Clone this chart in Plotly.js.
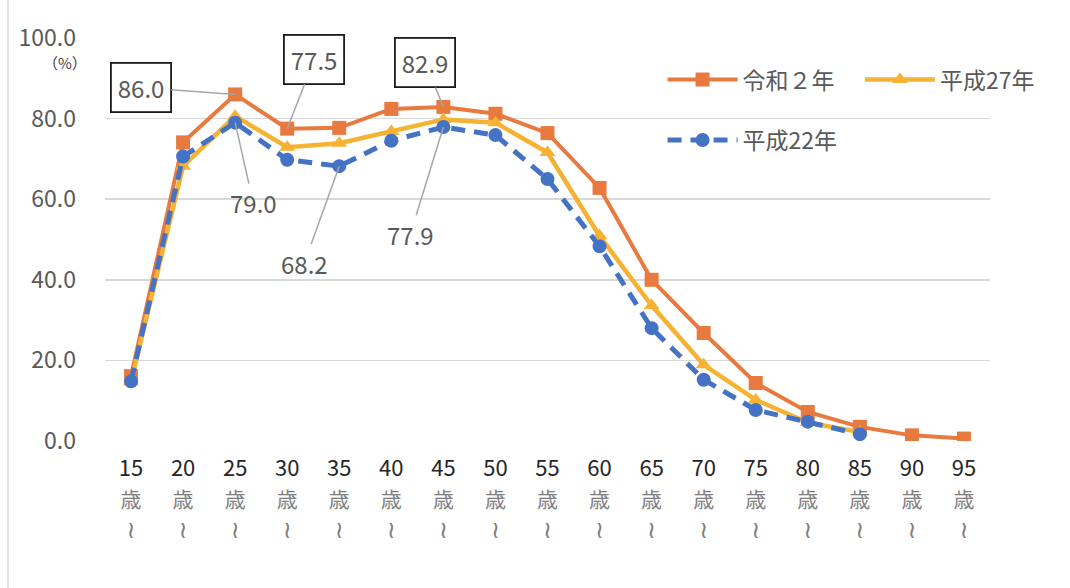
<!DOCTYPE html>
<html>
<head>
<meta charset="utf-8">
<script src="https://cdn.plot.ly/plotly-3.0.1.min.js"></script>
<style>
html,body{margin:0;padding:0;background:#fff;}
#chart{width:1070px;height:588px;}
</style>
</head>
<body>
<div id="chart"></div>
<script>
// ---- data ----
const ages = ['15','20','25','30','35','40','45','50','55','60','65','70','75','80','85','90','95'];
const ageUnit = '歳';
const ageMark = '≀';
const reiwa2 = [16.1, 74.1, 86.0, 77.5, 77.7, 82.4, 82.9, 81.2, 76.4, 62.8, 40.0, 26.8, 14.4, 7.2, 3.5, 1.4, 0.6];
const heisei27 = [14.7, 68.2, 80.6, 72.9, 73.9, 76.8, 79.8, 79.0, 71.6, 50.9, 33.6, 18.9, 10.2, 4.6, 2.2];
const heisei22 = [14.8, 70.6, 79.0, 69.8, 68.2, 74.5, 77.9, 75.9, 65.0, 48.3, 28.0, 15.2, 7.7, 4.8, 1.7];
const seriesNames = ['令和２年', '平成27年', '平成22年'];
const yTicks = [0, 20, 40, 60, 80, 100];

const FONT = '"Noto Sans CJK JP", sans-serif';
const CJK = '"Noto Sans CJK JP", sans-serif';
const C_OR = '#E8793F', C_YE = '#F6B232', C_BL = '#4472C4';

const tickText = ages.map(a =>
  '<span style="font-size:22px">' + a + '</span><br>' +
  '<span style="font-size:21px;color:#7f7f7f">' + ageUnit + '</span><br>' +
  '<span style="font-family:DejaVu Sans;font-size:24px;color:#7f7f7f">' + ageMark + '</span>');
const idx = a => ages.indexOf(a);

const traces = [
  {x: ages.slice(0, reiwa2.length), y: reiwa2, name: seriesNames[0], type: 'scatter', mode: 'lines+markers',
   line: {color: C_OR, width: 4}, marker: {symbol: 'square', size: 14, color: C_OR}, legend: 'legend'},
  {x: ages.slice(0, heisei27.length), y: heisei27, name: seriesNames[1], type: 'scatter', mode: 'lines+markers',
   line: {color: C_YE, width: 4.5}, marker: {symbol: 'triangle-up', size: 14, color: C_YE}, legend: 'legend3'},
  {x: ages.slice(0, heisei22.length), y: heisei22, name: seriesNames[2], type: 'scatter', mode: 'lines+markers',
   line: {color: C_BL, width: 5, dash: '14px,9px'}, marker: {symbol: 'circle', size: 14, color: C_BL}, legend: 'legend2'}
];

function boxed(a, yv, txt, ax, ay) {
  return {x: idx(a), y: yv, xref: 'x', yref: 'y', text: txt, showarrow: true, arrowhead: 0, arrowwidth: 1.5,
    arrowcolor: '#a6a6a6', ax: ax, ay: ay, standoff: 0, startstandoff: 0,
    bordercolor: '#1a1a1a', borderwidth: 1.8, borderpad: 6, bgcolor: '#fff',
    font: {family: FONT, size: 24, color: '#595959'}};
}
function plain(a, yv, txt, ax, ay) {
  return {x: idx(a), y: yv, xref: 'x', yref: 'y', text: txt, showarrow: true, arrowhead: 0, arrowwidth: 1.5,
    arrowcolor: '#a6a6a6', ax: ax, ay: ay, standoff: 0,
    font: {family: FONT, size: 24, color: '#595959'}};
}

const legendBase = {orientation: 'h', xanchor: 'left', yanchor: 'top', itemwidth: 70,
  font: {family: CJK, size: 23, color: '#595959'}, bgcolor: 'rgba(0,0,0,0)'};

const layout = {
  width: 1070, height: 588,
  margin: {l: 105, r: 80, t: 38, b: 147, autoexpand: false},
  paper_bgcolor: '#fff', plot_bgcolor: '#fff',
  showlegend: true,
  xaxis: {type: 'category', categoryarray: ages, range: [-0.5, ages.length - 0.5], tickvals: ages, ticktext: tickText,
    tickangle: 0, showgrid: false, zeroline: false, showline: false, ticks: '', automargin: false,
    tickfont: {family: FONT, size: 24, color: '#262626'}, ticklabelstandoff: 10, fixedrange: true},
  yaxis: {range: [0, 100], tickvals: yTicks, ticktext: yTicks.map(v => v.toFixed(1)), automargin: false,
    showgrid: true, gridcolor: '#d9d9d9', gridwidth: 1.5, zeroline: false, showline: false, ticks: '',
    tickfont: {family: FONT, size: 23, color: '#595959'}, ticklabelstandoff: 28, fixedrange: true},
  legend: Object.assign({}, legendBase, {x: 0.63, y: 0.95}),
  legend3: Object.assign({}, legendBase, {x: 0.853, y: 0.95}),
  legend2: Object.assign({}, legendBase, {x: 0.63, y: 0.80}),
  annotations: [
    boxed('25', 86.0, '86.0', -94, -7),
    boxed('30', 77.5, '77.5', 27, -69),
    boxed('45', 82.9, '82.9', -18, -44),
    plain('25', 79.0, '79.0', 18, 80),
    plain('35', 68.2, '68.2', -35, 97),
    plain('45', 77.9, '77.9', -33, 107),
    {xref: 'paper', yref: 'paper', x: -0.045, y: 0.94, xanchor: 'center', yanchor: 'middle', text: '（%）', showarrow: false,
     font: {family: CJK, size: 15, color: '#404040'}}
  ],
  shapes: [
    {type: 'line', xref: 'paper', yref: 'paper', x0: -0.1096, x1: -0.1096, y0: -0.4, y1: 1.2,
     line: {color: '#d9d9d9', width: 1.5}}
  ]
};

Plotly.newPlot('chart', traces, layout, {displayModeBar: false, staticPlot: true});
</script>
</body>
</html>
